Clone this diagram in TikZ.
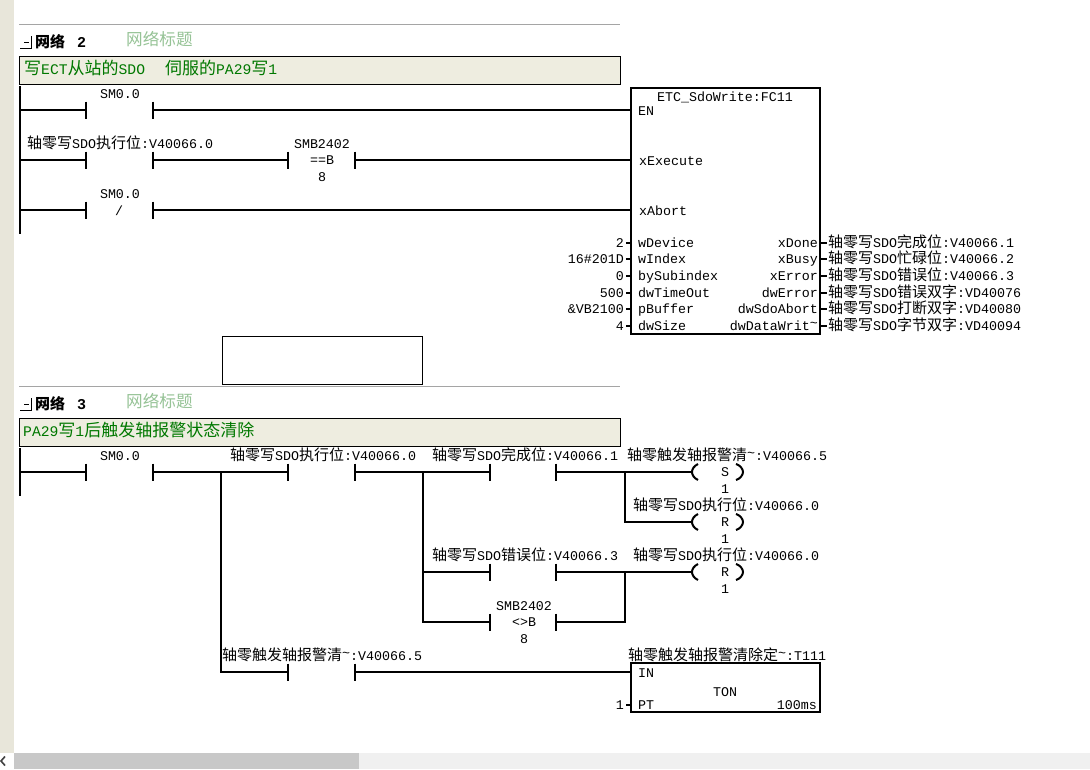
\documentclass[tikz,border=0pt]{standalone}
\usepackage{fontspec}
\setmainfont{Liberation Mono}
\newfontfamily\cjk{Noto Sans CJK SC}
\newcommand{\zh}[1]{{\cjk\fontsize{15pt}{15pt}\selectfont #1}}
\newcommand{\zhc}[1]{{\cjk\fontsize{17pt}{17pt}\selectfont #1}}
\newcommand{\tld}{\raisebox{3pt}{\textasciitilde}}
\definecolor{strip}{RGB}{232,230,218}
\definecolor{cmtfill}{RGB}{238,237,224}
\definecolor{cmtgreen}{RGB}{0,120,0}
\definecolor{titlegreen}{RGB}{150,195,150}
\definecolor{rulegray}{RGB}{165,165,165}
\definecolor{sbthumb}{RGB}{200,200,200}
\definecolor{sbtrack}{RGB}{240,240,240}
\tikzset{
  x=1pt,y=-1pt,
  lbl/.style={inner sep=0pt,text height=10.5pt,text depth=2pt,font=\fontsize{13.33pt}{14pt}\selectfont},
  wire/.style={line width=2pt,line cap=rect},
  bar/.style={line width=2pt},
  rail/.style={line width=2pt},
  fblock/.style={draw,line width=2pt,fill=white,inner sep=0pt},
  cmt/.style={draw=black,line width=1pt,fill=cmtfill,inner sep=0pt},
  cmttext/.style={lbl,text=cmtgreen,anchor=west,font=\fontsize{14.7pt}{15pt}\selectfont},
  nettitle/.style={inner sep=0pt,anchor=west,text=titlegreen,font=\cjk\fontsize{16.6pt}{17pt}\selectfont},
  nethead/.style={inner sep=0pt,anchor=west,font=\bfseries\fontsize{15pt}{15pt}\selectfont},
  gray rule/.style={draw=rulegray,line width=1pt},
}
\newcommand{\contact}[4]{% name, xl, xr, y
  \coordinate (#1-l) at (#2,#4);
  \coordinate (#1-r) at (#3,#4);
  \draw[bar] (#2,#4-8.5) -- (#2,#4+8.5);
  \draw[bar] (#3,#4-8.5) -- (#3,#4+8.5);
}
\newcommand{\coil}[2]{% name, y
  \coordinate (#1-l) at (692,#2);
  \draw[bar] (698,#2-8) .. controls (694,#2-6) and (692,#2-3) .. (692,#2)
             .. controls (692,#2+3) and (694,#2+6) .. (698,#2+8);
  \draw[bar] (736,#2-8) .. controls (740,#2-7) and (743,#2-3) .. (743,#2)
             .. controls (743,#2+3) and (740,#2+7) .. (736,#2+8);
}
\newcommand{\colicon}[1]{% y top
  \draw[line width=1pt] (31.5,#1) -- (31.5,#1+12) -- (20,#1+12);
  \draw[line width=1pt] (24,#1+6.5) -- (29,#1+6.5);
}
\begin{document}
\begin{tikzpicture}
\useasboundingbox (0,0) rectangle (1090,769);
\fill[white] (0,0) rectangle (1090,769);
\fill[strip] (0,0) rectangle (14,753);
\fill[sbtrack] (0,753) rectangle (1090,769);
\fill[white] (0,753) rectangle (14,769);
\fill[sbthumb] (14,753) rectangle (359,769);
\draw[line width=1.6pt,black!75] (5,756.5) -- (1,761) -- (5,765.5);

% ---------- Network 2
\draw[gray rule] (19,24.5) -- (620,24.5);
\colicon{36}
\node[nethead] (n2h) at (35,42) {\cjk 网络\hspace{12pt}\rmfamily 2};
\node[nettitle] (n2t) at (126,39) {网络标题};
\node[cmt,minimum width=601pt,minimum height=28pt] (n2c) at (319.5,70) {};
\node[cmttext] (n2ct) at (24,70) {\zhc{写}ECT\zhc{从站的}SDO\hspace{20pt}\zhc{伺服的}PA29\zhc{写}1};
\draw[rail] (20,86) -- (20,234);

\node[fblock,minimum width=189pt,minimum height=246pt] (fb) at (725.5,211) {};
\coordinate (fbEN) at (631,110);
\coordinate (fbEX) at (631,160);
\coordinate (fbAB) at (631,210);

\coordinate (r1) at (20,110);
\coordinate (r2) at (20,160);
\coordinate (r3) at (20,210);
\contact{c1}{86}{153}{110}
\contact{c2}{86}{153}{160}
\contact{c3}{288}{355}{160}
\contact{c4}{86}{153}{210}
\draw[wire] (r1) -- (c1-l);
\draw[wire] (c1-r) -- (fbEN);
\draw[wire] (r2) -- (c2-l);
\draw[wire] (c2-r) -- (c3-l);
\draw[wire] (c3-r) -- (fbEX);
\draw[wire] (r3) -- (c4-l);
\draw[wire] (c4-r) -- (fbAB);

\node[lbl] (t1) at (120,94) {SM0.0};
\node[lbl,anchor=west] (t2) at (27,144) {\zh{轴零写}SDO\zh{执行位}:V40066.0};
\node[lbl] (t3) at (322,144) {SMB2402};
\node[lbl] (t4) at (322,160) {==B};
\node[lbl] (t5) at (322,177) {8};
\node[lbl] (t6) at (120,194) {SM0.0};
\node[lbl] (t7) at (119,211) {/};

\node[lbl] (ft) at (725,97) {ETC\_SdoWrite:FC11};
\node[lbl,anchor=west] (fp0) at (638,111) {EN};
\node[lbl,anchor=west] (fp1) at (639,161) {xExecute};
\node[lbl,anchor=west] (fp2) at (639,211) {xAbort};
\node[lbl,anchor=west] (fp3) at (638,243) {wDevice};
\node[lbl,anchor=west] (fp4) at (638,259) {wIndex};
\node[lbl,anchor=west] (fp5) at (638,276) {bySubindex};
\node[lbl,anchor=west] (fp6) at (638,293) {dwTimeOut};
\node[lbl,anchor=west] (fp7) at (638,309) {pBuffer};
\node[lbl,anchor=west] (fp8) at (638,326) {dwSize};
\node[lbl,anchor=east] (fq3) at (818,243) {xDone};
\node[lbl,anchor=east] (fq4) at (818,259) {xBusy};
\node[lbl,anchor=east] (fq5) at (818,276) {xError};
\node[lbl,anchor=east] (fq6) at (818,293) {dwError};
\node[lbl,anchor=east] (fq7) at (818,309) {dwSdoAbort};
\node[lbl,anchor=east] (fq8) at (818,326) {dwDataWrit\tld};
\node[lbl,anchor=east] (v3) at (624,243) {2};
\node[lbl,anchor=east] (v4) at (624,259) {16\#201D};
\node[lbl,anchor=east] (v5) at (624,276) {0};
\node[lbl,anchor=east] (v6) at (624,293) {500};
\node[lbl,anchor=east] (v7) at (624,309) {\&VB2100};
\node[lbl,anchor=east] (v8) at (624,326) {4};
\node[lbl,anchor=west] (o3) at (828,243) {\zh{轴零写}SDO\zh{完成位}:V40066.1};
\node[lbl,anchor=west] (o4) at (828,259) {\zh{轴零写}SDO\zh{忙碌位}:V40066.2};
\node[lbl,anchor=west] (o5) at (828,276) {\zh{轴零写}SDO\zh{错误位}:V40066.3};
\node[lbl,anchor=west] (o6) at (828,293) {\zh{轴零写}SDO\zh{错误双字}:VD40076};
\node[lbl,anchor=west] (o7) at (828,309) {\zh{轴零写}SDO\zh{打断双字}:VD40080};
\node[lbl,anchor=west] (o8) at (828,326) {\zh{轴零写}SDO\zh{字节双字}:VD40094};
\foreach \yy in {243,259,276,293,309,326}{
  \draw[line width=2pt] (626,\yy) -- (631,\yy);
  \draw[line width=2pt] (820,\yy) -- (827,\yy);
}

\node[draw=black,line width=1pt,fill=white,minimum width=200pt,minimum height=48pt,inner sep=0pt] (blank) at (322.5,360.5) {};

% ---------- Network 3
\draw[gray rule] (19,386.5) -- (620,386.5);
\colicon{398}
\node[nethead] (n3h) at (35,404) {\cjk 网络\hspace{12pt}\rmfamily 3};
\node[nettitle] (n3t) at (126,401) {网络标题};
\node[cmt,minimum width=601pt,minimum height=28pt] (n3c) at (319.5,432) {};
\node[cmttext] (n3ct) at (23,432) {PA29\zhc{写}1\zhc{后触发轴报警状态清除}};
\draw[rail] (20,448) -- (20,496);

\coordinate (r4) at (20,472);
\contact{d1}{86}{153}{472}
\contact{d2}{288}{355}{472}
\contact{d3}{490}{556}{472}
\contact{d4}{490}{556}{572}
\contact{d5}{490}{556}{622}
\contact{d6}{288}{355}{672}
\coil{k1}{472}
\coil{k2}{522}
\coil{k3}{572}
\node[fblock,minimum width=189pt,minimum height=49pt] (ton) at (725.5,687.5) {};
\coordinate (tonIN) at (631,672);
\coordinate (bA) at (221,472);
\coordinate (bB) at (423,472);
\coordinate (bC) at (625,472);
\coordinate (bD) at (625,572);

\draw[wire] (r4) -- (d1-l);
\draw[wire] (d1-r) -- (d2-l);
\draw[wire] (d2-r) -- (d3-l);
\draw[wire] (d3-r) -- (k1-l);
\draw[wire] (bC) |- (k2-l);
\draw[wire] (bB) |- (d4-l);
\draw[wire] (bB) |- (d5-l);
\draw[wire] (d4-r) -- (k3-l);
\draw[wire] (d5-r) -| (bD);
\draw[wire] (bA) |- (d6-l);
\draw[wire] (d6-r) -- (tonIN);
\draw[line width=2pt] (626,705) -- (631,705);

\node[lbl] (u1) at (120,456) {SM0.0};
\node[lbl,anchor=west] (u2) at (230,456) {\zh{轴零写}SDO\zh{执行位}:V40066.0};
\node[lbl,anchor=west] (u3) at (432,456) {\zh{轴零写}SDO\zh{完成位}:V40066.1};
\node[lbl,anchor=west] (u4) at (627,456) {\zh{轴零触发轴报警清}\tld:V40066.5};
\node[lbl] (u5) at (725,472) {S};
\node[lbl] (u6) at (725,489) {1};
\node[lbl,anchor=west] (u7) at (633,506) {\zh{轴零写}SDO\zh{执行位}:V40066.0};
\node[lbl] (u8) at (725,522) {R};
\node[lbl] (u9) at (725,539) {1};
\node[lbl,anchor=west] (u10) at (432,556) {\zh{轴零写}SDO\zh{错误位}:V40066.3};
\node[lbl,anchor=west] (u11) at (633,556) {\zh{轴零写}SDO\zh{执行位}:V40066.0};
\node[lbl] (u12) at (725,572) {R};
\node[lbl] (u13) at (725,589) {1};
\node[lbl] (u14) at (524,606) {SMB2402};
\node[lbl] (u15) at (524,622) {<>B};
\node[lbl] (u16) at (524,639) {8};
\node[lbl,anchor=west] (u17) at (222,656) {\zh{轴零触发轴报警清}\tld:V40066.5};
\node[lbl,anchor=west] (u18) at (628,656) {\zh{轴零触发轴报警清除定}\tld:T111};
\node[lbl,anchor=west] (u19) at (638,673) {IN};
\node[lbl] (u20) at (725,692) {TON};
\node[lbl,anchor=west] (u21) at (638,705) {PT};
\node[lbl,anchor=east] (u22) at (817,705) {100ms};
\node[lbl,anchor=east] (u23) at (624,705) {1};
\end{tikzpicture}
\end{document}
